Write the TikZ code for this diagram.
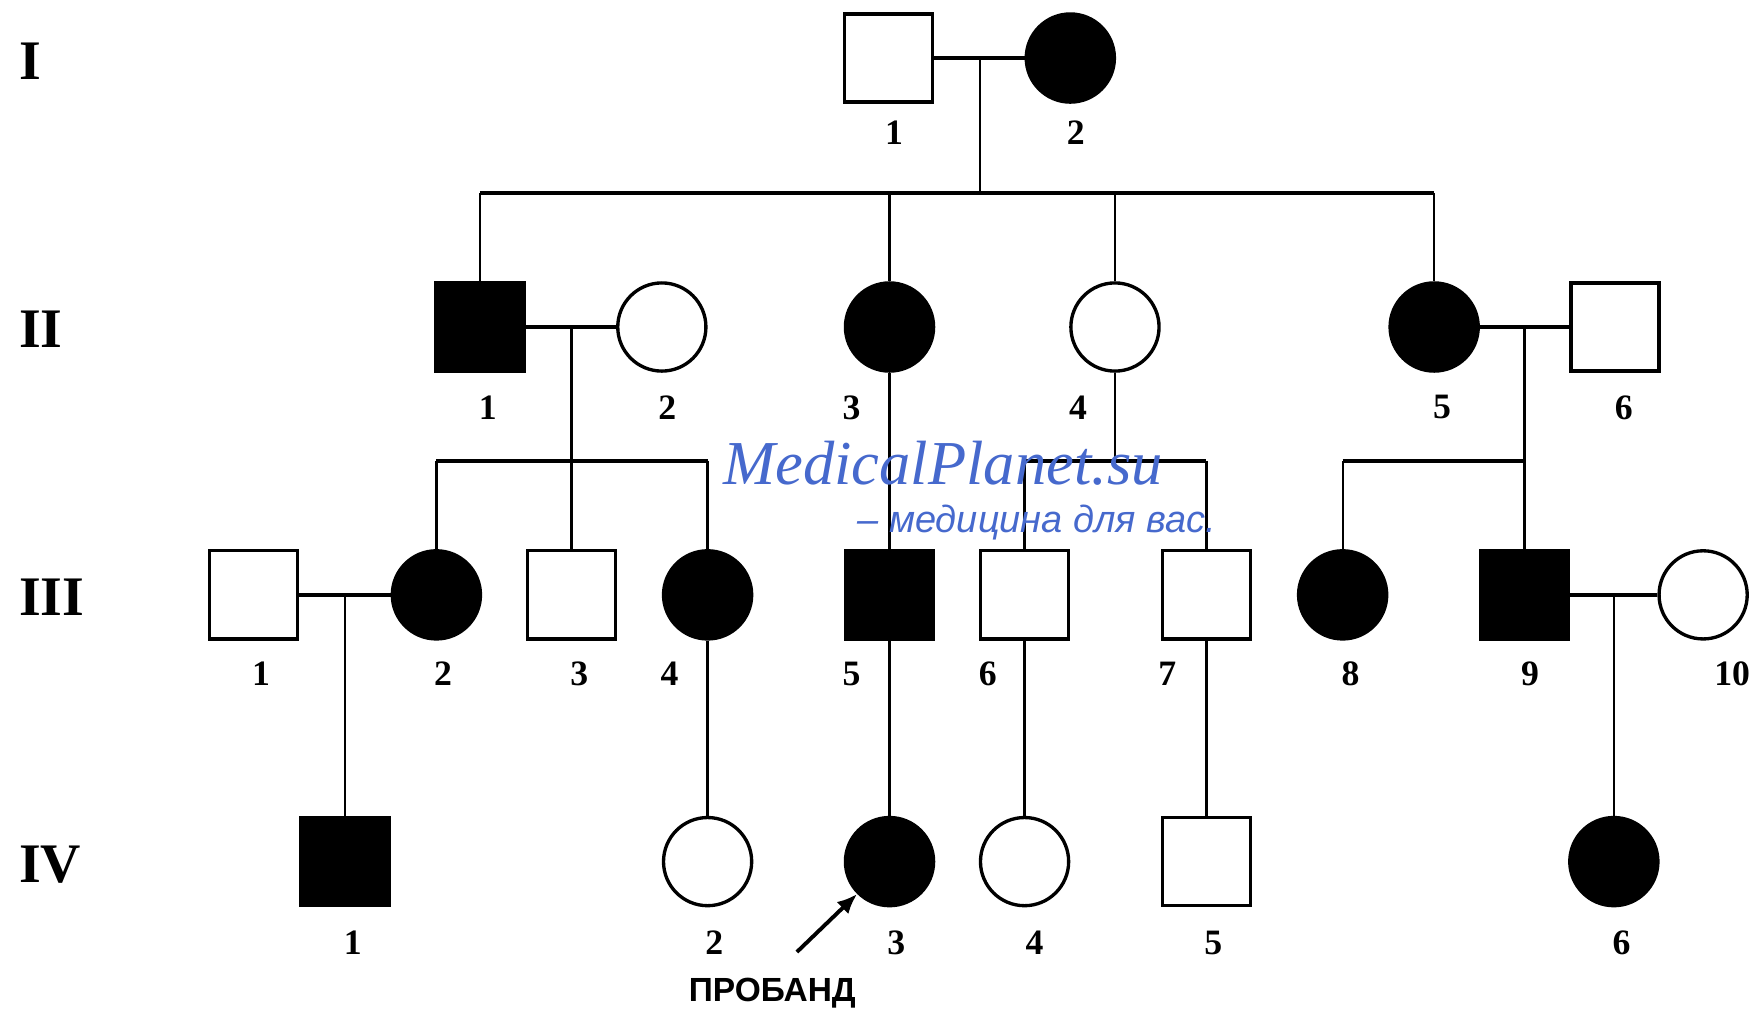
\documentclass[tikz,border=0pt]{standalone}
\usepackage{fontspec}
\setmainfont{Liberation Serif}
\newfontfamily\sansf{Liberation Sans}
\usetikzlibrary{arrows.meta}
\definecolor{wmblue}{RGB}{70,105,205}
\begin{document}
\begin{tikzpicture}[x=1pt,y=-1pt,
  male/.style={draw, rectangle, minimum size=79pt, line width=3pt, inner sep=0pt},
  female/.style={draw, circle, minimum size=79pt, line width=3pt, inner sep=0pt},
  aff/.style={fill=black},
  unaff/.style={fill=white},
  num/.style={font=\fontsize{32}{32}\selectfont\bfseries, inner sep=0pt},
  gen/.style={font=\fontsize{50}{50}\selectfont\bfseries, inner sep=0pt, anchor=west},
  hl/.style={line width=3.5pt},
  vl/.style={line width=2pt}]
\useasboundingbox[fill=white] (0,0) rectangle (1568,909);

% generation labels
\node[gen] (gI) at (17,55) {I};
\node[gen] (gII) at (17,295) {II};
\node[gen] (gIII) at (17,535) {III};
\node[gen] (gIV) at (17,775) {IV};

% generation I
\node[male,unaff] (I1) at (796,52) {};
\node[female,aff] (I2) at (959,52) {};
% generation II
\node[male,aff] (II1) at (430,293) {};
\node[female,unaff] (II2) at (593,293) {};
\node[female,aff] (II3) at (797,293) {};
\node[female,unaff] (II4) at (999,293) {};
\node[female,aff] (II5) at (1285,293) {};
\node[male,unaff] (II6) at (1447,293) {};
% generation III
\node[male,unaff] (III1) at (227,533) {};
\node[female,aff] (III2) at (391,533) {};
\node[male,unaff] (III3) at (512,533) {};
\node[female,aff] (III4) at (634,533) {};
\node[male,aff] (III5) at (797,533) {};
\node[male,unaff] (III6) at (918,533) {};
\node[male,unaff] (III7) at (1081,533) {};
\node[female,aff] (III8) at (1203,533) {};
\node[male,aff] (III9) at (1366,533) {};
\node[female,unaff] (III10) at (1526,533) {};
% generation IV
\node[male,aff] (IV1) at (309,772) {};
\node[female,unaff] (IV2) at (634,772) {};
\node[female,aff] (IV3) at (797,772) {};
\node[female,unaff] (IV4) at (918,772) {};
\node[male,unaff] (IV5) at (1081,772) {};
\node[female,aff] (IV6) at (1446,772) {};

% number labels
\node[num] (nI1) at (801,119) {1};
\node[num] (nI2) at (964,119) {2};
\node[num] (nII1) at (437,365) {1};
\node[num] (nII2) at (598,365) {2};
\node[num] (nII3) at (763,365) {3};
\node[num] (nII4) at (966,365) {4};
\node[num] (nII5) at (1292,365) {5};
\node[num] (nII6) at (1455,365) {6};
\node[num] (nIII1) at (234,604) {1};
\node[num] (nIII2) at (397,604) {2};
\node[num] (nIII3) at (519,604) {3};
\node[num] (nIII4) at (600,604) {4};
\node[num] (nIII5) at (763,604) {5};
\node[num] (nIII6) at (885,604) {6};
\node[num] (nIII7) at (1046,604) {7};
\node[num] (nIII8) at (1210,604) {8};
\node[num] (nIII9) at (1371,604) {9};
\node[num] (nIII10) at (1552,604) {10};
\node[num] (nIV1) at (316,845) {1};
\node[num] (nIV2) at (640,845) {2};
\node[num] (nIV3) at (803,845) {3};
\node[num] (nIV4) at (927,845) {4};
\node[num] (nIV5) at (1087,845) {5};
\node[num] (nIV6) at (1453,845) {6};

% junction coordinates
\coordinate (mI) at (878,52);
\coordinate (sI) at (878,173);
\coordinate (mII12) at (512,293);
\coordinate (sII12) at (512,413);
\coordinate (sII4) at (999,413);
\coordinate (mII56) at (1366,293);
\coordinate (sII56) at (1366,413);
\coordinate (mIII12) at (309,533);
\coordinate (mIII910) at (1446,533);

% generation I family
\draw[hl] (I1.east) -- (I2.west);
\draw[vl] (mI) -- (sI);
\draw[hl] (II1 |- sI) -- (II5 |- sI);
\foreach \n in {II1,II3,II4,II5} \draw[vl] (\n |- sI) -- (\n.north);

% II1 x II2
\draw[hl] (II1.east) -- (II2.west);
\draw[vl] (mII12) -- (sII12);
\draw[hl] (III2 |- sII12) -- (III4 |- sII12);
\foreach \n in {III2,III3,III4} \draw[vl] (\n |- sII12) -- (\n.north);

% II3 line
\draw[vl] (II3.south) -- (III5.north);

% II4
\draw[vl] (II4.south) -- (sII4);
\draw[hl] (III6 |- sII4) -- (III7 |- sII4);
\foreach \n in {III6,III7} \draw[vl] (\n |- sII4) -- (\n.north);

% II5 x II6
\draw[hl] (II5.east) -- (II6.west);
\draw[vl] (mII56) -- (sII56);
\draw[hl] (III8 |- sII56) -- (III9 |- sII56);
\foreach \n in {III8,III9} \draw[vl] (\n |- sII56) -- (\n.north);

% generation III to IV
\draw[hl] (III1.east) -- (III2.west);
\draw[vl] (mIII12) -- (IV1.north);
\draw[vl] (III4.south) -- (IV2.north);
\draw[vl] (III5.south) -- (IV3.north);
\draw[vl] (III6.south) -- (IV4.north);
\draw[vl] (III7.south) -- (IV5.north);
\draw[hl] (III9.east) -- (III10.west);
\draw[vl] (mIII910) -- (IV6.north);

% proband
\node[font=\sansf\fontsize{30}{30}\selectfont\bfseries, inner sep=0pt] (prob) at (692,890) {ПРОБАНД};
\coordinate (pa) at (714,853);
\draw[line width=3.5pt, -{Latex[length=18pt,width=15pt]}] (pa) -- (IV3.225);

% watermark
\node[text=wmblue, font=\fontsize{56}{56}\selectfont\itshape, inner sep=0pt] (wm1) at (845,415) {MedicalPlanet.su};
\node[text=wmblue, font=\sansf\fontsize{34}{34}\selectfont\itshape, inner sep=0pt] (wm2) at (929,468) {– медицина для вас.};
\end{tikzpicture}
\end{document}
